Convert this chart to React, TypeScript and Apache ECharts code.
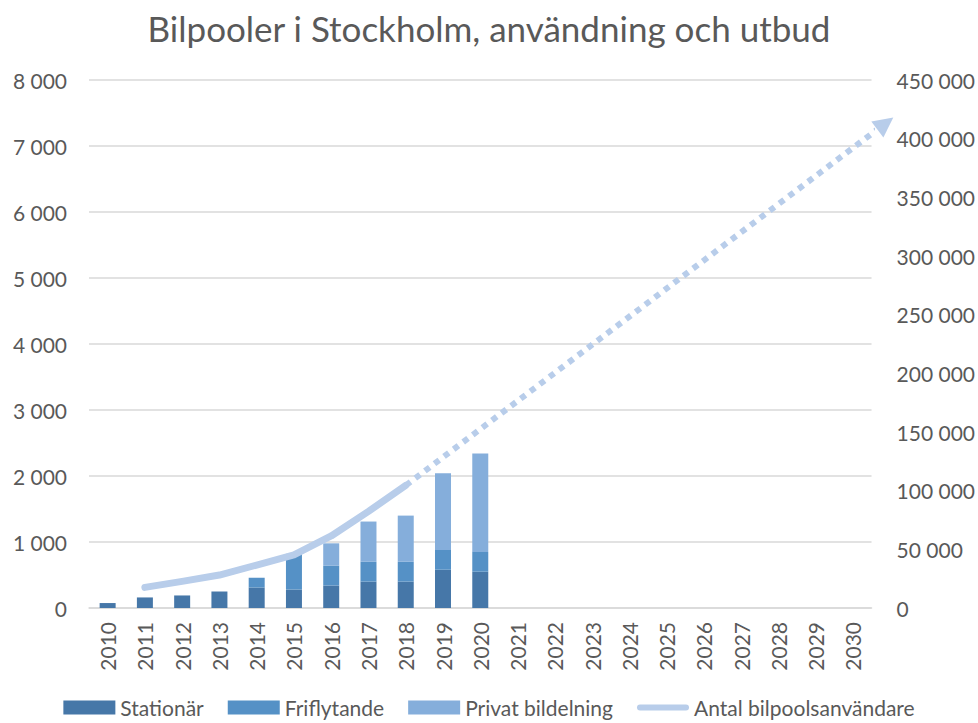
import React, { useEffect, useRef } from "react";
import * as echarts from "echarts";

const years = ["2010","2011","2012","2013","2014","2015","2016","2017","2018","2019","2020","2021","2022","2023","2024","2025","2026","2027","2028","2029","2030"];
const stationar = [75, 160, 190, 250, 310, 280, 340, 400, 400, 580, 550, null, null, null, null, null, null, null, null, null, null];
const friflytande = [0, 0, 0, 0, 150, 540, 300, 300, 300, 300, 300, null, null, null, null, null, null, null, null, null, null];
const privat = [0, 0, 0, 0, 0, 0, 340, 610, 700, 1160, 1490, null, null, null, null, null, null, null, null, null, null];
const anvandare = [null, 17600, 22700, 28100, 36600, 45200, 61400, 82300, 104500, null, null, null, null, null, null, null, null, null, null, null, null];
// projection: [category index, users]
const projStart = [8, 104500];
const projEnd = [20.87, 413000];

const leftTicks = { min: 0, max: 8000, interval: 1000 };
const rightTicks = { min: 0, max: 450000, interval: 50000 };

const FONT = "Lato";
const TXT = "#595959";
const LINE = "#b8cdea";
const fmt = (v: number) => String(v).replace(/\B(?=(\d{3})+(?!\d))/g, " ");

export default function App() {
  const ref = useRef<HTMLDivElement>(null);
  useEffect(() => {
    if (!ref.current) return;
    const chart = echarts.init(ref.current, null, { renderer: "svg" });
    chart.setOption({
      animation: false,
      backgroundColor: "#ffffff",
      textStyle: { fontFamily: FONT },
      title: {
        text: "Bilpooler i Stockholm, användning och utbud",
        left: "center",
        top: 5,
        textStyle: { fontFamily: FONT, fontSize: 35, fontWeight: "normal", color: TXT },
      },
      legend: {
        bottom: 0,
        left: "center",
        itemWidth: 52,
        itemHeight: 14,
        itemGap: 24,
        textStyle: { fontFamily: FONT, fontSize: 21, color: TXT },
        data: [
          { name: "Stationär", icon: "rect" },
          { name: "Friflytande", icon: "rect" },
          { name: "Privat bildelning", icon: "rect" },
          {
            name: "Antal bilpoolsanvändare",
            icon: "path://M3,0 L49,0 A3,3 0 0 1 49,6 L3,6 A3,3 0 0 1 3,0 Z",
            itemStyle: { color: LINE },
          },
        ],
      },
      grid: { left: 89, right: 106, top: 80, bottom: 115, containLabel: false },
      xAxis: [
        {
          type: "category",
          data: years,
          boundaryGap: true,
          axisLine: { lineStyle: { color: "#d9d9d9", width: 1.5 } },
          axisTick: { show: false },
          axisLabel: { rotate: 90, fontFamily: FONT, fontSize: 21, color: TXT, margin: 14 },
        },
        { type: "value", show: false, min: -0.5, max: 20.5, splitLine: { show: false } },
      ],
      yAxis: [
        {
          type: "value",
          ...leftTicks,
          axisLine: { show: false },
          axisTick: { show: false },
          splitLine: { lineStyle: { color: "#d9d9d9", width: 1.5 } },
          axisLabel: { fontFamily: FONT, fontSize: 21, color: TXT, margin: 22, formatter: fmt },
        },
        {
          type: "value",
          ...rightTicks,
          position: "right",
          axisLine: { show: false },
          axisTick: { show: false },
          splitLine: { show: false },
          axisLabel: { fontFamily: FONT, fontSize: 21, color: TXT, margin: 25, formatter: fmt },
        },
      ],
      series: [
        { name: "Stationär", type: "bar", stack: "s", barWidth: 16, data: stationar, itemStyle: { color: "#4677a8" } },
        { name: "Friflytande", type: "bar", stack: "s", barWidth: 16, data: friflytande, itemStyle: { color: "#5591c6" } },
        { name: "Privat bildelning", type: "bar", stack: "s", barWidth: 16, data: privat, itemStyle: { color: "#85aedb" } },
        {
          name: "Antal bilpoolsanvändare",
          type: "line",
          yAxisIndex: 1,
          data: anvandare,
          symbol: "none",
          smooth: false,
          lineStyle: { color: LINE, width: 7, cap: "round", join: "round" },
          itemStyle: { color: LINE },
        },
        {
          name: "Prognos",
          type: "line",
          xAxisIndex: 1,
          yAxisIndex: 1,
          clip: false,
          data: [projStart, projEnd],
          symbol: "none",
          lineStyle: { color: LINE, width: 6, type: [6, 6], cap: "butt" },
          itemStyle: { color: LINE },
        },
        {
          name: "Pil",
          type: "scatter",
          xAxisIndex: 1,
          yAxisIndex: 1,
          clip: false,
          silent: true,
          data: [projEnd],
          symbol: "triangle",
          symbolSize: 20,
          symbolRotate: -53,
          itemStyle: { color: LINE, opacity: 1 },
        },
      ],
    });
    // orient the arrow along the projected line, using the library's own scales
    const a = chart.convertToPixel({ xAxisIndex: 1, yAxisIndex: 1 }, projStart) as number[];
    const b = chart.convertToPixel({ xAxisIndex: 1, yAxisIndex: 1 }, projEnd) as number[];
    if (a && b) {
      const ang = (Math.atan2(a[1] - b[1], b[0] - a[0]) * 180) / Math.PI;
      chart.setOption({ series: [{}, {}, {}, {}, {}, { symbolRotate: ang - 90 }] });
    }
    return () => chart.dispose();
  }, []);
  return <div ref={ref} style={{ position: "absolute", left: 0, top: 0, width: 978, height: 723 }} />;
}
